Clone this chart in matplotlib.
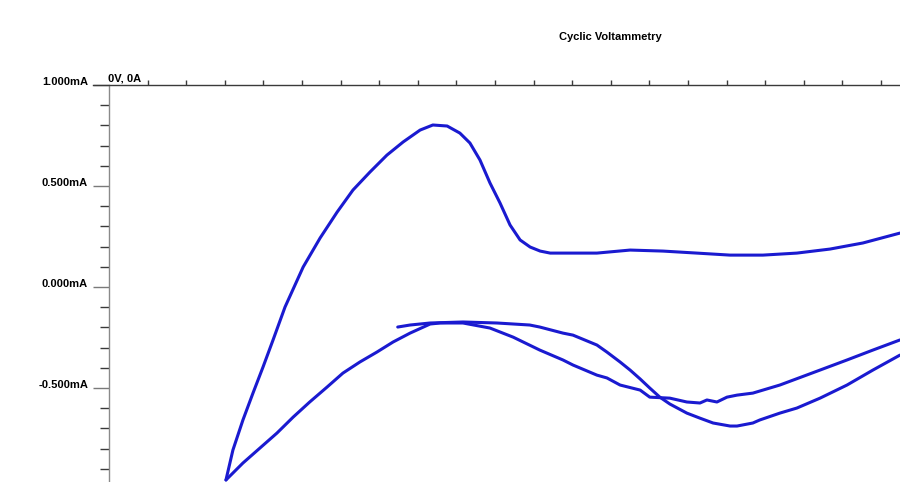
import matplotlib
matplotlib.use("Agg")
import matplotlib.pyplot as plt
from matplotlib.ticker import FixedLocator, FuncFormatter

plt.rcParams['font.family'] = ['Liberation Sans', 'DejaVu Sans']

title = "Cyclic Voltammetry"
corner_label = "0V, 0A"

# Potential (V) and current (mA)
# Segment 1: initial forward sweep
seg1_v = [0.748, 0.780, 0.832, 0.917, 1.005, 1.090, 1.116, 1.176, 1.202, 1.264, 1.290,
          1.324, 1.350, 1.376, 1.401, 1.427, 1.453, 1.497, 1.531, 1.565, 1.609, 1.627,
          1.668, 1.686, 1.738, 1.782, 1.842, 1.912, 1.979, 2.049]
seg1_i = [-0.198, -0.188, -0.178, -0.173, -0.178, -0.188, -0.198, -0.228, -0.238, -0.287,
          -0.322, -0.371, -0.411, -0.455, -0.500, -0.545, -0.579, -0.624, -0.649, -0.673,
          -0.688, -0.688, -0.673, -0.658, -0.624, -0.599, -0.550, -0.485, -0.411, -0.337]
# Segment 2: reverse sweep
seg2_v = [2.049, 1.979, 1.912, 1.842, 1.738, 1.668, 1.627, 1.601, 1.575, 1.549, 1.531,
          1.497, 1.453, 1.401, 1.376, 1.324, 1.290, 1.264, 1.202, 1.176, 1.116, 1.047,
          0.987, 0.917, 0.858, 0.832, 0.780, 0.736, 0.694, 0.650, 0.606, 0.565, 0.520,
          0.477, 0.435, 0.391, 0.347, 0.303]
seg2_i = [-0.262, -0.312, -0.361, -0.411, -0.485, -0.525, -0.535, -0.545, -0.569, -0.559,
          -0.574, -0.569, -0.550, -0.545, -0.510, -0.485, -0.450, -0.436, -0.386, -0.361,
          -0.312, -0.248, -0.203, -0.178, -0.178, -0.183, -0.228, -0.272, -0.322, -0.371,
          -0.426, -0.495, -0.569, -0.644, -0.723, -0.797, -0.871, -0.955]
# Segment 3: second forward sweep
seg3_v = [0.303, 0.321, 0.347, 0.373, 0.399, 0.425, 0.456, 0.503, 0.547, 0.591, 0.632,
          0.676, 0.720, 0.762, 0.806, 0.839, 0.876, 0.909, 0.935, 0.961, 0.987, 1.013,
          1.039, 1.065, 1.091, 1.117, 1.143, 1.264, 1.350, 1.435, 1.523, 1.609, 1.694,
          1.782, 1.868, 1.953, 2.049]
seg3_i = [-0.955, -0.807, -0.658, -0.525, -0.396, -0.262, -0.099, 0.099, 0.243, 0.371,
          0.480, 0.569, 0.653, 0.718, 0.777, 0.802, 0.797, 0.762, 0.713, 0.629, 0.515,
          0.416, 0.307, 0.233, 0.198, 0.178, 0.168, 0.168, 0.183, 0.178, 0.168, 0.158,
          0.158, 0.168, 0.188, 0.218, 0.267]

y_major = [-0.5, 0.0, 0.5, 1.0]
y_minor = [-0.9, -0.8, -0.7, -0.6, -0.4, -0.3, -0.2, -0.1, 0.1, 0.2, 0.3, 0.4, 0.6, 0.7, 0.8, 0.9]
x_ticks = [0.1 * k for k in range(1, 21)]

W, H = 900, 482
fig = plt.figure(figsize=(W / 100, H / 100), dpi=100)
ax = fig.add_axes([93 / W, 0.0, 1 - 93 / W, (H - 85) / H])

line_color = '#1a1ad0'
for v, i in [(seg1_v, seg1_i), (seg2_v, seg2_i), (seg3_v, seg3_i)]:
    ax.plot(v, i, color=line_color, lw=2.2, solid_capstyle='round', solid_joinstyle='round')

ax.set_xlim(-16 / 386, (W - 109) / 386)
ax.set_ylim(-0.965, 1.0)

for s in ['right', 'bottom']:
    ax.spines[s].set_visible(False)
ax.spines['left'].set_position(('data', 0))
ax.spines['left'].set_color('#8a8a8a')
ax.spines['left'].set_linewidth(1.0)
ax.spines['top'].set_color('#3a3a3a')
ax.spines['top'].set_linewidth(1.0)

ax.yaxis.set_major_locator(FixedLocator(y_major))
ax.yaxis.set_minor_locator(FixedLocator(y_minor))
ax.yaxis.set_major_formatter(FuncFormatter(lambda v, p: f"{v:.3f}mA"))
ax.tick_params(axis='y', which='major', direction='out', length=11.5, width=1.0,
               color='#7a7a7a', pad=3.6, labelsize=8)
ax.tick_params(axis='y', which='minor', direction='out', length=6.5, width=1.0,
               color='#3a3a3a')
for lab in ax.get_yticklabels():
    lab.set_fontweight('bold')
    lab.set_verticalalignment('baseline')

ax.xaxis.set_ticks_position('top')
ax.xaxis.set_major_locator(FixedLocator(x_ticks))
ax.tick_params(axis='x', which='major', direction='out', length=3.6, width=1.0,
               color='#3a3a3a', labeltop=False, labelbottom=False)

fig.text(108 / W, 1 - 81 / H, corner_label, fontsize=8, fontweight='bold',
         ha='left', va='baseline')
fig.text(610 / W, 1 - 39.5 / H, title, fontsize=8, fontweight='bold',
         ha='center', va='baseline')

fig.savefig("out.png", dpi=100)
